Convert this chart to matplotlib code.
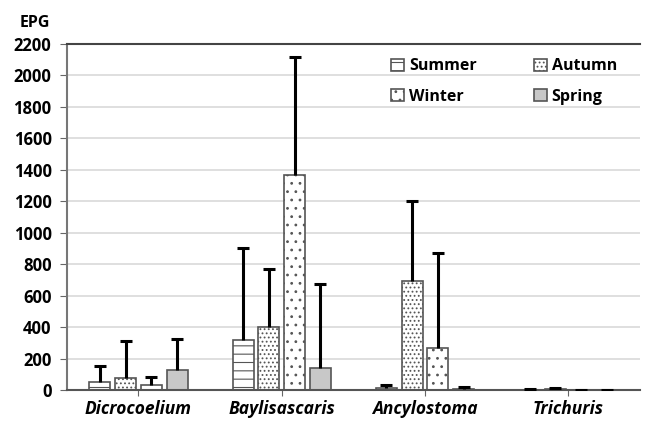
import numpy as np
import matplotlib.pyplot as plt

plt.rcParams['font.family'] = ['Open Sans', 'DejaVu Sans']
plt.rcParams['hatch.linewidth'] = 0.8

genera = ["Dicrocoelium", "Baylisascaris", "Ancylostoma", "Trichuris"]
seasons = ["Summer", "Autumn", "Winter", "Spring"]

summer = [51, 318, 10, 3]
autumn = [76, 400, 690, 5]
winter = [32, 1370, 265, 1]
spring = [127, 140, 5, 1]

# top of the upper error bar
summer_top = [153, 905, 35, 5]
autumn_top = [311, 770, 1200, 10]
winter_top = [83, 2115, 870, 2]
spring_top = [324, 672, 20, 2]

means = [summer, autumn, winter, spring]
tops = [summer_top, autumn_top, winter_top, spring_top]
hatches = ["--", "....", "..", ""]
faces = ["white", "white", "white", "#c8c8c8"]

fig = plt.figure(figsize=(6.49, 4.21), dpi=100)
ax = fig.add_axes([0.103, 0.0736, 0.883, 0.822])

x = np.arange(len(genera))
w = 0.147
step = 0.18
handles = []
for i in range(4):
    pos = x + (i - 1.5) * step
    m = np.array(means[i])
    err = np.array(tops[i]) - m
    b = ax.bar(pos, m, w, color=faces[i], edgecolor="#555555", linewidth=1.2,
               hatch=hatches[i], label=seasons[i], zorder=2)
    handles.append(b)
    eb = ax.errorbar(pos, m, yerr=[np.zeros_like(err), err], fmt="none",
                     ecolor="black", elinewidth=2.2, capsize=4, capthick=2.2, zorder=3)
    eb[1][0].set_visible(False)

ax.set_xlim(-0.5, 3.5)
ax.set_ylim(0, 2200)
ax.set_yticks(range(0, 2201, 200))
ax.yaxis.grid(True, color="#d9d9d9", linewidth=1.2, zorder=0)
ax.set_axisbelow(True)
ax.set_xticks(x)
ax.set_xticklabels(genera, fontsize=12.5, fontweight="bold", style="italic")
for lab in ax.get_yticklabels():
    lab.set_fontweight("bold")
    lab.set_fontsize(12)
ax.tick_params(axis="y", length=5, color="#666666", pad=6)
ax.tick_params(axis="x", length=4, color="#666666", pad=3)
ax.spines["right"].set_visible(False)
ax.spines["top"].set_color("#444444")
ax.spines["top"].set_linewidth(1.5)
ax.spines["left"].set_color("#777777")
ax.spines["left"].set_linewidth(1.5)
ax.spines["bottom"].set_color("#555555")
ax.spines["bottom"].set_linewidth(1.5)

fig.text(0.03, 0.965, "EPG", fontsize=11.5, fontweight="bold", va="top")

# row-major order: Summer Autumn / Winter Spring
order = [0, 2, 1, 3]
ax.legend([handles[k] for k in order], [seasons[k] for k in order],
          loc="upper right", ncol=2, frameon=False, prop={"weight": "bold", "size": 11.5},
          handlelength=0.8, handleheight=0.8, handletextpad=0.3, columnspacing=3.6,
          labelspacing=0.9, bbox_to_anchor=(0.985, 1.0))

fig.savefig("out.png", dpi=100)
